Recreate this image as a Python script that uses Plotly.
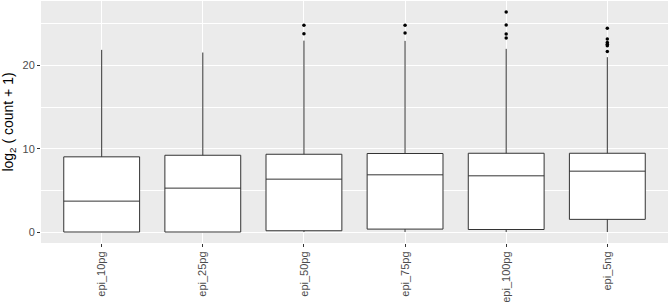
import plotly.graph_objects as go

categories = ["epi_10pg", "epi_25pg", "epi_50pg", "epi_75pg", "epi_100pg", "epi_5ng"]
q1 = [0.0, 0.0, 0.15, 0.35, 0.3, 1.52]
median = [3.71, 5.27, 6.35, 6.87, 6.75, 7.31]
q3 = [9.03, 9.22, 9.34, 9.43, 9.46, 9.46]
lower_fence = [0.0, 0.0, 0.0, 0.0, 0.0, 0.0]
upper_fence = [21.88, 21.56, 22.99, 22.96, 22.0, 21.0]

outlier_cat = ["epi_50pg", "epi_50pg", "epi_75pg", "epi_75pg",
               "epi_100pg", "epi_100pg", "epi_100pg", "epi_100pg",
               "epi_5ng", "epi_5ng", "epi_5ng", "epi_5ng", "epi_5ng", "epi_5ng"]
outlier_val = [24.84, 23.83, 24.84, 23.92,
               26.43, 24.87, 23.80, 23.32,
               24.49, 23.19, 22.75, 22.55, 22.36, 21.68]

y_ticks = [0, 10, 20]

fig = go.Figure()
fig.add_trace(go.Box(
    x=categories, q1=q1, median=median, q3=q3,
    lowerfence=lower_fence, upperfence=upper_fence,
    fillcolor="white", line=dict(color="#333333", width=1),
    whiskerwidth=0, boxpoints=False, showlegend=False, hoverinfo="skip",
))
fig.add_trace(go.Scatter(
    x=outlier_cat, y=outlier_val, mode="markers",
    marker=dict(color="black", size=3.5), showlegend=False, hoverinfo="skip",
))

font_family = "Liberation Sans, Arial, Helvetica, sans-serif"
fig.update_layout(
    width=669, height=302,
    margin=dict(l=41, r=1, t=1, b=59, autoexpand=False),
    paper_bgcolor="white", plot_bgcolor="#EBEBEB",
    boxgap=0.25, boxgroupgap=0,
    font=dict(family=font_family),
    xaxis=dict(
        type="category", categoryorder="array", categoryarray=categories,
        range=[-0.6, 5.6], showgrid=True, gridcolor="white", gridwidth=1.1,
        tickangle=-90, tickfont=dict(size=11, color="#4D4D4D"),
        ticks="outside", ticklen=3, tickcolor="#333333", tickwidth=1,
        zeroline=False, showline=False, automargin=False,
    ),
    yaxis=dict(
        range=[-1.32, 27.75], tickvals=y_ticks, ticktext=[str(v) for v in y_ticks],
        showgrid=True, gridcolor="white", gridwidth=1.1,
        minor=dict(dtick=5, tick0=0, showgrid=True, gridcolor="white", gridwidth=0.5, ticks=""),
        tickfont=dict(size=11, color="#4D4D4D"),
        ticks="outside", ticklen=3, tickcolor="#333333", tickwidth=1,
        zeroline=False, showline=False, automargin=False,
        title=dict(text="log<sub>2</sub> ( count + 1)", font=dict(size=14, color="black"), standoff=5),
    ),
)
fig.write_html("out.html", config={"displayModeBar": False},
               post_script="document.body.style.margin='0';document.body.style.padding='0';")
